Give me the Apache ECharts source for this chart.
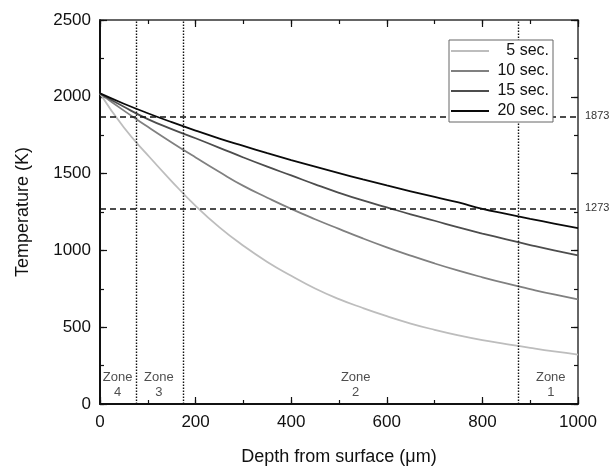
<!DOCTYPE html>
<html>
<head>
<meta charset="utf-8">
<script src="https://cdn.jsdelivr.net/npm/echarts@6/dist/echarts.min.js"></script>
<style>
  html, body { margin: 0; padding: 0; background: #fff; }
  #chart { width: 613px; height: 471px; }
</style>
</head>
<body>
<div id="chart"></div>
<script>
// depth from surface (um)
var depth = [0, 50, 100, 150, 200, 250, 300, 350, 400, 450, 500, 550, 600, 650, 700, 750, 800, 850, 900, 950, 1000];
// temperature (K) per heating time
var sec5  = [2022, 1800, 1620, 1450, 1290, 1150, 1030, 925, 835, 752, 683, 625, 572, 524, 483, 447, 416, 390, 365, 342, 322];
var sec10 = [2022, 1910, 1805, 1703, 1605, 1510, 1420, 1343, 1270, 1203, 1140, 1078, 1020, 966, 915, 868, 825, 785, 748, 713, 681];
var sec15 = [2022, 1935, 1855, 1790, 1730, 1668, 1605, 1545, 1488, 1430, 1375, 1325, 1280, 1235, 1193, 1150, 1110, 1072, 1035, 1000, 968];
var sec20 = [2022, 1955, 1893, 1835, 1780, 1728, 1680, 1633, 1588, 1545, 1503, 1462, 1423, 1385, 1348, 1312, 1270, 1238, 1206, 1175, 1145];

var seriesNames = ['5 sec.', '10 sec.', '15 sec.', '20 sec.'];
var seriesColors = ['#bdbdbd', '#808080', '#4d4d4d', '#0a0a0a'];

// zone boundaries and reference temperatures
var zoneBounds = [75, 175, 875];
var refTemps = [1873, 1273];
var zoneX = [37, 123, 535, 943];
var zoneNames = ['Zone\n4', 'Zone\n3', 'Zone\n2', 'Zone\n1'];
var zoneY = 122;

function pairs(ys) {
    return depth.map(function (d, i) { return [d, ys[i]]; });
}

var myChart = echarts.init(document.getElementById('chart'));

var tickStyle = { color: '#111', width: 1.2 };
var baseFont = 'Liberation Sans, Arial, sans-serif';

var lines = [sec5, sec10, sec15, sec20].map(function (ys, k) {
    return {
        name: seriesNames[k],
        type: 'line',
        data: pairs(ys),
        smooth: true,
        symbol: 'none',
        lineStyle: { color: seriesColors[k], width: 1.8 },
        itemStyle: { color: seriesColors[k] },
        z: 3
    };
});

// guide lines (zones + reference temps)
var markData = [];
zoneBounds.forEach(function (b) {
    markData.push({ xAxis: b, lineStyle: { type: [1.5, 1.5], width: 1.4, color: '#111' }, label: { show: false } });
});
refTemps.forEach(function (t) {
    markData.push({
        yAxis: t,
        lineStyle: { type: [6, 4], width: 1.5, color: '#111' },
        label: { show: true, position: 'end', formatter: String(t), fontSize: 11, color: '#333', distance: 7, fontFamily: baseFont }
    });
});
lines[3].markLine = { silent: true, symbol: ['none', 'none'], animation: false, data: markData };

lines.push({
    name: 'zones',
    type: 'scatter',
    data: zoneX.map(function (x, i) { return { value: [x, zoneY], name: zoneNames[i] }; }),
    symbolSize: 0,
    silent: true,
    label: {
        show: true,
        position: 'inside',
        formatter: function (p) { return p.name; },
        fontSize: 13,
        lineHeight: 15,
        color: '#222',
        fontFamily: baseFont
    },
    z: 4
});

// frame axes: main (labels, major ticks) plus minor-tick overlays
function xAx(pos, interval, len, main) {
    return {
        type: 'value', position: pos, min: 0, max: 1000, interval: interval,
        name: main ? 'Depth from surface (\u03bcm)' : '',
        nameLocation: 'middle', nameGap: 44,
        nameTextStyle: { fontSize: 18, color: '#111' },
        axisLine: { show: main !== null, onZero: false, lineStyle: { color: main ? '#111' : '#333', width: main ? 2 : 1.5 } },
        axisTick: { show: true, inside: true, length: len, lineStyle: tickStyle },
        axisLabel: { show: !!main, fontSize: 17, color: '#111', margin: 10, formatter: function (v) { return String(v); } },
        splitLine: { show: false }
    };
}
function yAx(pos, interval, len, main) {
    return {
        type: 'value', position: pos, min: 0, max: 2500, interval: interval,
        name: main ? 'Temperature (K)' : '',
        nameLocation: 'middle', nameGap: 68,
        nameTextStyle: { fontSize: 18, color: '#111' },
        axisLine: { show: main !== null, onZero: false, lineStyle: { color: main ? '#111' : '#333', width: main ? 2 : 1.5 } },
        axisTick: { show: true, inside: true, length: len, lineStyle: tickStyle },
        axisLabel: { show: !!main, fontSize: 17, color: '#111', margin: 9, formatter: function (v) { return String(v); } },
        splitLine: { show: false }
    };
}

myChart.setOption({
    animation: false,
    backgroundColor: '#fff',
    textStyle: { fontFamily: baseFont },
    grid: { left: 100, right: 35, top: 20, bottom: 63 },
    legend: {
        data: seriesNames,
        orient: 'vertical',
        left: 449,
        top: 40,
        padding: [3, 4, 3, 2],
        icon: 'rect',
        itemWidth: 38,
        itemHeight: 2,
        itemGap: 4,
        backgroundColor: '#fff',
        borderColor: '#666',
        borderWidth: 1,
        borderRadius: 0,
        formatter: function (name) { return '{n|' + name + '}'; },
        textStyle: {
            fontSize: 16,
            color: '#111',
            rich: { n: { width: 55, align: 'right', fontSize: 16, lineHeight: 16, color: '#111', fontFamily: baseFont } }
        },
        z: 10
    },
    xAxis: [
        xAx('bottom', 200, 7, true),
        xAx('top', 200, 7, false),
        xAx('bottom', 100, 4, null),
        xAx('top', 100, 4, null)
    ],
    yAxis: [
        yAx('left', 500, 7, true),
        yAx('right', 500, 7, false),
        yAx('left', 250, 4, null),
        yAx('right', 250, 4, null)
    ],
    series: lines
});
</script>
</body>
</html>
